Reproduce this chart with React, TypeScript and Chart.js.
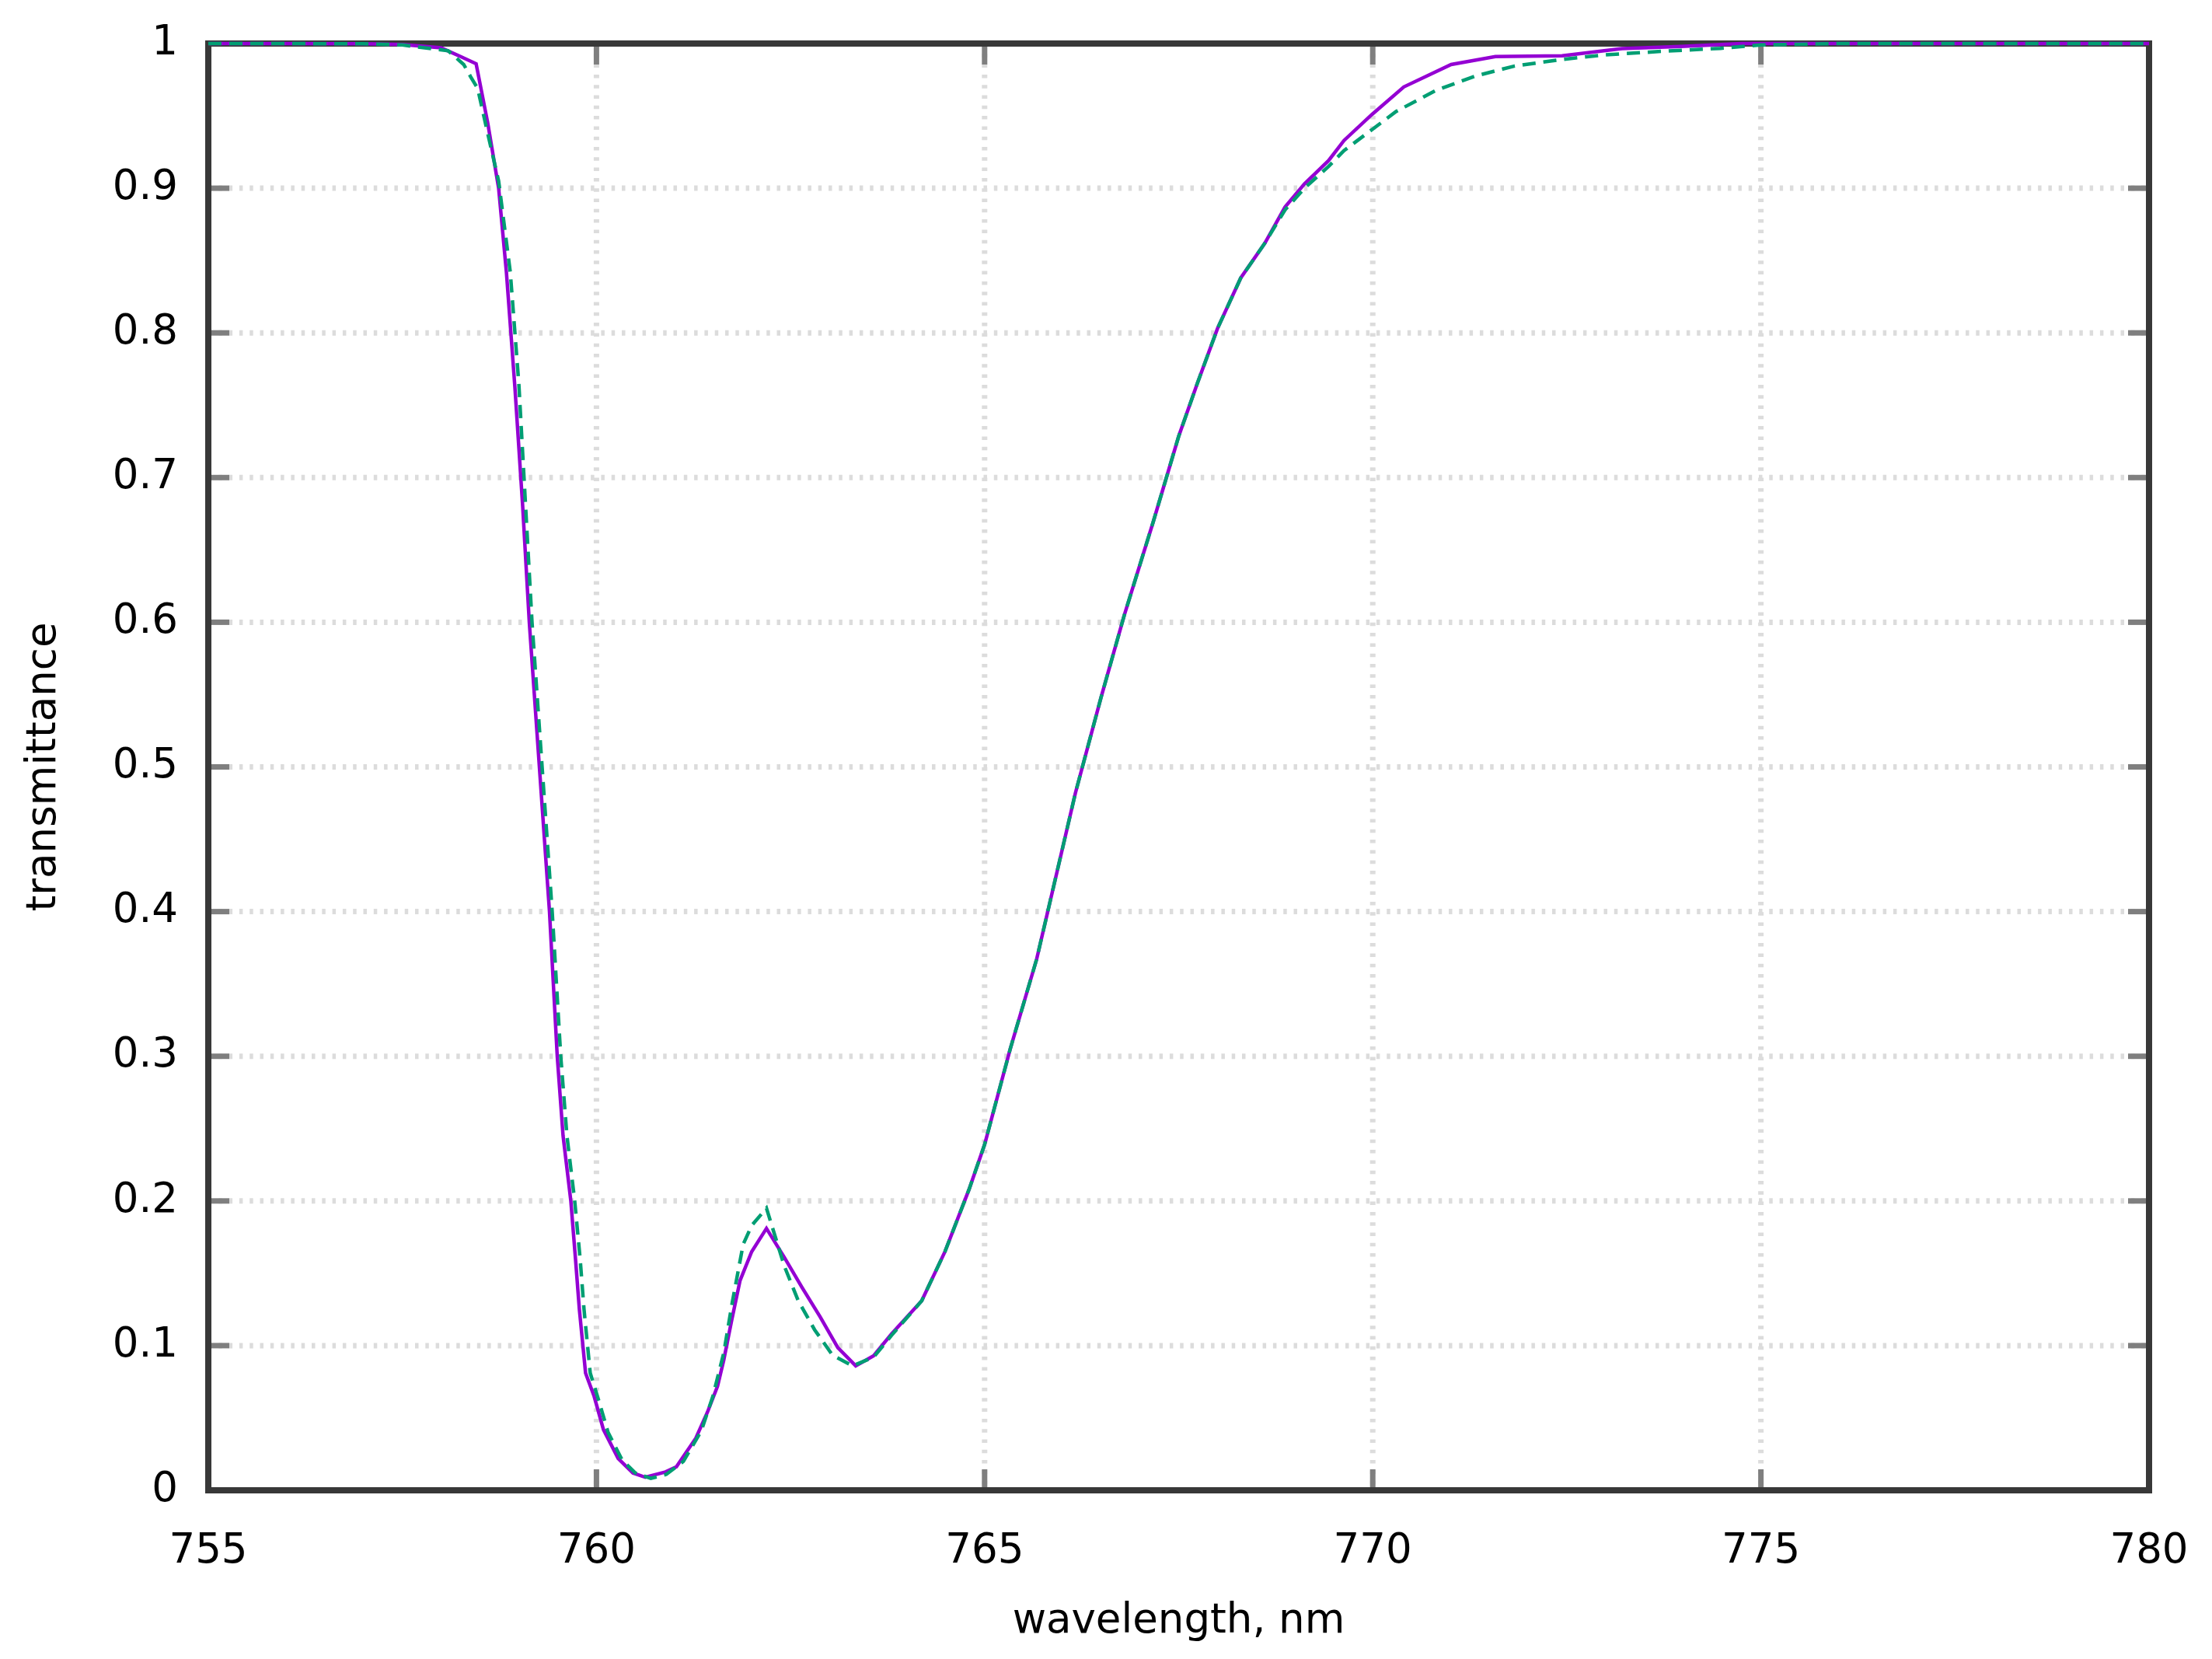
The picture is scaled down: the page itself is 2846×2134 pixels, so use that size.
import React, { useEffect, useRef } from 'react';
import { Chart, registerables } from 'chart.js';

Chart.register(...registerables);

const FONT_FAMILY = "'DejaVu Sans', 'Liberation Sans', sans-serif";

// Tick labels
const xTickLabels = ['755', '760', '765', '770', '775', '780'];
const yTickLabels = ['0', '0.1', '0.2', '0.3', '0.4', '0.5', '0.6', '0.7', '0.8', '0.9', '1'];

// Series 1 (solid, dark violet)
const purpleX = [
  755, 756, 757, 757.5, 758, 758.25, 758.45, 758.6, 758.74, 758.84, 758.95,
  759.05, 759.135, 759.265, 759.395, 759.495, 759.57, 759.67, 759.73, 759.78, 759.86, 759.97,
  760.09, 760.28, 760.47, 760.63, 760.89,
  761.03, 761.28, 761.43, 761.56, 761.64, 761.74, 761.85,
  762.0, 762.19, 762.42, 762.65, 762.88,
  763.11, 763.34, 763.57, 763.8,
  764.19, 764.49, 764.8,
  765.0, 765.33, 765.67,
  766.17, 766.5, 766.8,
  767.17, 767.5, 767.74,
  768.0, 768.3, 768.61, 768.87,
  769.12, 769.43, 769.63, 769.99,
  770.4, 771.01, 771.58, 772.44, 773.21, 773.97, 774.75, 780,
];
const purpleY = [
  1, 1, 0.9998, 0.9993, 0.997, 0.991, 0.986, 0.945, 0.9, 0.842, 0.762,
  0.68, 0.6, 0.5, 0.4, 0.3, 0.245, 0.2, 0.16, 0.125, 0.081, 0.065,
  0.042, 0.022, 0.012, 0.009, 0.0127,
  0.0163, 0.036, 0.054, 0.072, 0.09, 0.117, 0.145,
  0.165, 0.181, 0.161, 0.14, 0.12,
  0.0985, 0.086, 0.093, 0.108,
  0.131, 0.165, 0.208,
  0.239, 0.305, 0.367,
  0.482, 0.548, 0.605,
  0.669, 0.7285, 0.765,
  0.803, 0.838, 0.862, 0.887,
  0.903, 0.919, 0.933, 0.951,
  0.97, 0.9855, 0.991, 0.9916, 0.9965, 0.998, 1, 1,
];

// Series 2 (dashed, bluish green)
const greenX = [
  755, 756, 757, 757.5, 758.09, 758.29, 758.38, 758.47, 758.59, 758.74, 758.89,
  759.0, 759.17, 759.3, 759.43, 759.54, 759.62, 759.72, 759.79, 759.84, 759.92,
  760.03, 760.15, 760.33, 760.5, 760.7, 760.9,
  761.12, 761.35, 761.5, 761.64, 761.75, 761.89,
  762.0, 762.19, 762.42, 762.6, 762.81,
  763.04, 763.3, 763.57, 763.8,
  764.19, 764.49, 764.8,
  765.0, 765.33, 765.67,
  766.17, 766.5, 766.8,
  767.17, 767.5, 767.74,
  768.0, 768.3, 768.61, 768.87,
  769.12, 769.43, 769.63, 769.99,
  770.3, 770.81, 771.32, 771.83, 772.44, 772.95, 773.72, 774.48, 775, 776, 780,
];
const greenY = [
  1, 1, 0.9998, 0.999, 0.995, 0.9855, 0.977, 0.969, 0.94, 0.905, 0.842,
  0.765, 0.6, 0.5, 0.4, 0.3, 0.245, 0.2, 0.16, 0.125, 0.081,
  0.062, 0.04, 0.021, 0.012, 0.0082, 0.011,
  0.02, 0.041, 0.065, 0.095, 0.13, 0.17,
  0.183, 0.195, 0.155, 0.131, 0.111,
  0.0935, 0.086, 0.092, 0.107,
  0.131, 0.165, 0.208,
  0.239, 0.305, 0.367,
  0.482, 0.548, 0.605,
  0.669, 0.7285, 0.765,
  0.803, 0.838, 0.862, 0.885,
  0.9, 0.915, 0.926, 0.9405,
  0.953, 0.9675, 0.9775, 0.9845, 0.989, 0.992, 0.9946, 0.9967, 0.999, 1, 1,
];

const toPoints = (xs: number[], ys: number[]) => xs.map((x, i) => ({ x, y: ys[i] }));

const framePlugin = {
  id: 'gnuplotFrame',
  beforeDatasetsDraw(chart: any) {
    const { ctx, chartArea: a, scales } = chart;
    const xs = scales.x;
    const ys = scales.y;
    const line = (x1: number, y1: number, x2: number, y2: number) => {
      ctx.beginPath();
      ctx.moveTo(x1, y1);
      ctx.lineTo(x2, y2);
      ctx.stroke();
    };
    ctx.save();
    // dotted grid
    ctx.strokeStyle = '#dcdcdc';
    ctx.lineWidth = 7;
    ctx.setLineDash([4.5, 8.8]);
    xs.ticks.forEach((t: any) => {
      if (t.value <= xs.min || t.value >= xs.max) return;
      const px = xs.getPixelForValue(t.value);
      line(px, a.top, px, a.bottom);
    });
    ys.ticks.forEach((t: any) => {
      if (t.value <= ys.min || t.value >= ys.max) return;
      const py = ys.getPixelForValue(t.value);
      line(a.left, py, a.right, py);
    });
    ctx.setLineDash([]);
    // inward tick marks on all four sides
    ctx.strokeStyle = '#7f7f7f';
    ctx.lineWidth = 7;
    const L = 27;
    xs.ticks.forEach((t: any) => {
      const px = xs.getPixelForValue(t.value);
      line(px, a.bottom, px, a.bottom - L);
      line(px, a.top, px, a.top + L);
    });
    ys.ticks.forEach((t: any) => {
      const py = ys.getPixelForValue(t.value);
      line(a.left, py, a.left + L, py);
      line(a.right, py, a.right - L, py);
    });
    // frame
    ctx.strokeStyle = '#383838';
    ctx.lineWidth = 8;
    ctx.strokeRect(a.left, a.top, a.right - a.left, a.bottom - a.top);
    ctx.restore();
  },
};

const zeroPadding = (s: any) => {
  s.paddingTop = 0;
  s.paddingBottom = 0;
  s.paddingLeft = 0;
  s.paddingRight = 0;
};

export default function App() {
  const canvasRef = useRef<HTMLCanvasElement | null>(null);

  useEffect(() => {
    const canvas = canvasRef.current;
    if (!canvas) return;
    const font = { family: FONT_FAMILY, size: 53 };
    const chart = new Chart(canvas, {
      type: 'line',
      data: {
        datasets: [
          {
            label: 'series 1',
            data: toPoints(purpleX, purpleY),
            borderColor: '#9400D3',
            borderWidth: 4.5,
            pointRadius: 0,
            tension: 0,
            fill: false,
            clip: false,
            order: 1,
          } as any,
          {
            label: 'series 2',
            data: toPoints(greenX, greenY),
            borderColor: '#009E73',
            borderWidth: 4.5,
            borderDash: [17, 10],
            pointRadius: 0,
            tension: 0,
            fill: false,
            clip: false,
            order: 0,
          } as any,
        ],
      },
      options: {
        animation: false,
        responsive: false,
        devicePixelRatio: 1,
        layout: { autoPadding: false, padding: { left: 0, top: 56, right: 81, bottom: 0 } },
        plugins: {
          legend: { display: false },
          tooltip: { enabled: false },
        },
        events: [],
        scales: {
          x: {
            type: 'linear',
            min: 755,
            max: 780,
            grid: { display: false },
            border: { display: false },
            ticks: {
              stepSize: 5,
              padding: 39,
              color: '#000',
              font,
              maxRotation: 0,
              autoSkip: false,
              callback: (_v: any, i: number) => xTickLabels[i],
            },
            title: {
              display: true,
              text: 'wavelength, nm',
              color: '#000',
              font,
              padding: { top: 0, bottom: 16 },
            },
            afterFit: (s: any) => {
              s.height = 217;
              zeroPadding(s);
            },
          },
          y: {
            type: 'linear',
            min: 0,
            max: 1,
            grid: { display: false },
            border: { display: false },
            ticks: {
              stepSize: 0.1,
              padding: 31,
              color: '#000',
              font,
              autoSkip: false,
              callback: (_v: any, i: number) => yTickLabels[i],
            },
            title: {
              display: true,
              text: 'transmittance',
              color: '#000',
              font,
              padding: { top: 25, bottom: 0 },
            },
            afterFit: (s: any) => {
              s.width = 268;
              zeroPadding(s);
            },
          },
        },
      } as any,
      plugins: [framePlugin],
    });
    return () => chart.destroy();
  }, []);

  return (
    <div style={{ position: 'fixed', left: 0, top: 0, width: 2846, height: 2134, background: '#fff' }}>
      <canvas ref={canvasRef} width={2846} height={2134} style={{ display: 'block', width: 2846, height: 2134 }} />
    </div>
  );
}
